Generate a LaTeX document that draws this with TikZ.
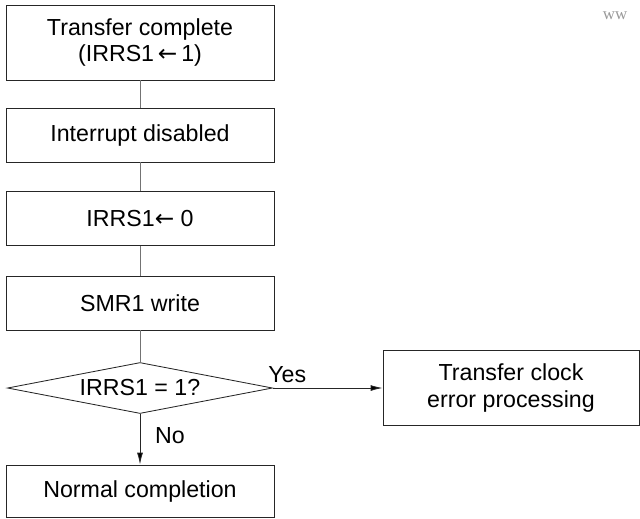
\documentclass[tikz,border=0pt]{standalone}
\usepackage{fontspec}
\setmainfont{Liberation Sans}
\newfontfamily\markfont{Liberation Serif}
\newfontfamily\arrowfont{DejaVu Sans}
\usetikzlibrary{shapes.geometric, positioning, arrows.meta}

\begin{document}
\begin{tikzpicture}[node distance=2.1cm, on grid, auto,
    font=\fontsize{16.5}{19}\selectfont,
    box/.style={draw=black!85, line width=0.6pt, minimum width=6.7cm, minimum height=1.35cm, align=center, inner sep=0pt},
    tall/.style={box, minimum height=1.875cm},
    decision/.style={diamond, draw=black!85, line width=0.6pt, minimum width=6.625cm, minimum height=1.275cm, aspect=5.2, inner sep=0pt},
    link/.style={draw=black!55, line width=0.6pt},
    flow/.style={draw=black!85, line width=0.6pt, -{Latex[length=3mm,width=1.5mm]}}]
    \useasboundingbox (0,0) rectangle (16,-12.95);
    \node[tall] (done) at (3.5,-1.0625) {Transfer complete\\(IRRS1\,{\arrowfont ←}\,1)};
    \node[box] (intoff) [below=2.3125cm of done] {Interrupt disabled};
    \node[box] (clear) [below=2.0875cm of intoff] {IRRS1{\arrowfont ←} 0};
    \node[box] (smr) [below=2.1125cm of clear] {SMR1 write};
    \node[decision] (check) [below=2.125cm of smr] {IRRS1 = 1?};
    \node[box, minimum height=1.3cm] (normal) [below=2.575cm of check] {Normal completion};
    \node[tall, minimum width=6.4cm] (clkerr) [right=9.275cm of check] {Transfer clock\\error processing};
    \node[text=black!40, font=\markfont\fontsize{12}{13}\selectfont, anchor=west] (mark) at (14.95,-0.4) {ww};

    \path[link] (done) edge (intoff)
        (intoff) edge (clear)
        (clear) edge (smr)
        (smr) edge (check);
    \path[flow]
    (check) edge node[pos=0.13] {Yes} (clkerr)
            edge node[pos=0.42, xshift=0.25cm] {No} (normal);
\end{tikzpicture}
\end{document}
